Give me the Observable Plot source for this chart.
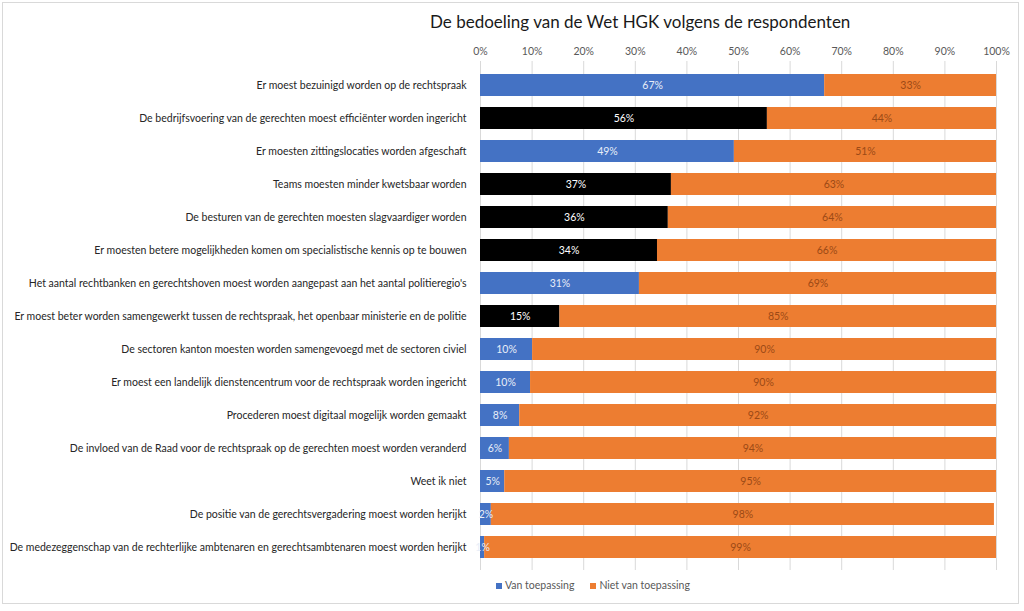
<!DOCTYPE html>
<html><head><meta charset="utf-8">
<script src="https://cdn.jsdelivr.net/npm/d3@7"></script>
<script src="https://cdn.jsdelivr.net/npm/@observablehq/plot@0.6"></script>
<style>
body{margin:0;background:#fff;}
#wrap{position:relative;width:1024px;height:611px;overflow:hidden;font-family:Lato,"Open Sans",sans-serif;background:#fff;}
#frame{position:absolute;left:2px;top:2px;width:1017px;height:602px;border:1px solid #d9d9d9;box-sizing:border-box;}
#title{position:absolute;left:430px;top:11px;font-size:17px;color:#1a1a1a;white-space:nowrap;}
#chart{position:absolute;left:0;top:36px;}
#legend{position:absolute;top:579px;left:496px;font-size:10.5px;color:#595959;white-space:nowrap;}
#legend span.item{margin-right:16px;}
#legend span.sw{display:inline-block;width:6px;height:6px;margin-right:3px;vertical-align:0px;}
</style></head>
<body>
<div id="wrap">
  <div id="frame"></div>
  <div id="title">De bedoeling van de Wet HGK volgens de respondenten</div>
  <div id="chart"></div>
  <div id="legend"></div>
</div>
<script>
const statements = [
  "Er moest bezuinigd worden op de rechtspraak",
  "De bedrijfsvoering van de gerechten moest efficiënter worden ingericht",
  "Er moesten zittingslocaties worden afgeschaft",
  "Teams moesten minder kwetsbaar worden",
  "De besturen van de gerechten moesten slagvaardiger worden",
  "Er moesten betere mogelijkheden komen om specialistische kennis op te bouwen",
  "Het aantal rechtbanken en gerechtshoven moest worden aangepast aan het aantal politieregio's",
  "Er moest beter worden samengewerkt tussen de rechtspraak, het openbaar ministerie en de politie",
  "De sectoren kanton moesten worden samengevoegd met de sectoren civiel",
  "Er moest een landelijk dienstencentrum voor de rechtspraak worden ingericht",
  "Procederen moest digitaal mogelijk worden gemaakt",
  "De invloed van de Raad voor de rechtspraak op de gerechten moest worden veranderd",
  "Weet ik niet",
  "De positie van de gerechtsvergadering moest worden herijkt",
  "De medezeggenschap van de rechterlijke ambtenaren en gerechtsambtenaren moest worden herijkt"
];
const vanToepassing     = [66.7, 55.6, 49.2, 37.0, 36.4, 34.3, 30.8, 15.4, 10.1, 9.7, 7.6, 5.6, 4.7, 2.1, 0.8];
const nietVanToepassing = [33.3, 44.4, 50.8, 63.0, 63.6, 65.7, 69.2, 84.6, 89.9, 90.3, 92.4, 94.4, 95.3, 97.5, 99.2];
const uitgelicht = [false, true, false, true, true, true, false, true, false, false, false, false, false, false, false];
const seriesNames = ["Van toepassing", "Niet van toepassing"];
const xTicks = [0, 10, 20, 30, 40, 50, 60, 70, 80, 90, 100];

const data = [];
statements.forEach((s, i) => {
  data.push({statement: s, group: "van", key: uitgelicht[i] ? "vanUit" : "van", value: vanToepassing[i]});
  data.push({statement: s, group: "niet", key: "niet", value: nietVanToepassing[i]});
});
const lbl = d => Math.round(d.value) + "%";
const stackOpts = extra => Plot.stackX({x: "value", y: "statement", z: "group", order: ["van", "niet"], ...extra});

const chart = Plot.plot({
  width: 1024,
  height: 536,
  marginLeft: 480,
  marginRight: 28,
  marginTop: 25,
  marginBottom: 2,
  style: {fontFamily: "Lato, 'Open Sans', sans-serif", fontSize: "10.5px", color: "#262626", background: "transparent"},
  x: {domain: [0, 100], axis: "top", ticks: xTicks, tickFormat: d => d + "%", tickSize: 0, tickPadding: 7, label: null},
  y: {domain: statements, padding: 0.34, label: null, tickSize: 0, tickPadding: 14},
  color: {domain: ["van", "vanUit", "niet"], range: ["#4472C4", "#000000", "#ED7D31"]},
  marks: [
    Plot.ruleX(xTicks, {stroke: "#d9d9d9", strokeWidth: 1}),
    Plot.barX(data, stackOpts({fill: "key"})),
    Plot.text(data, stackOpts({text: d => d.key === "van" ? lbl(d) : "", fill: "#e8eef8", fontSize: 10.5})),
    Plot.text(data, stackOpts({text: d => d.key === "vanUit" ? lbl(d) : "", fill: "#ffffff", fontSize: 10.5})),
    Plot.text(data, stackOpts({text: d => d.key === "niet" ? lbl(d) : "", fill: "#9c4a16", fontSize: 10.5}))
  ]
});
chart.querySelectorAll("[aria-label='x-axis tick label']").forEach(e => e.setAttribute("fill", "#595959"));
document.getElementById("chart").appendChild(chart);

const legendColors = ["#4472C4", "#ED7D31"];
document.getElementById("legend").innerHTML = seriesNames.map((n, i) =>
  `<span class="item"><span class="sw" style="background:${legendColors[i]}"></span>${n}</span>`).join("");
</script>
</body></html>
